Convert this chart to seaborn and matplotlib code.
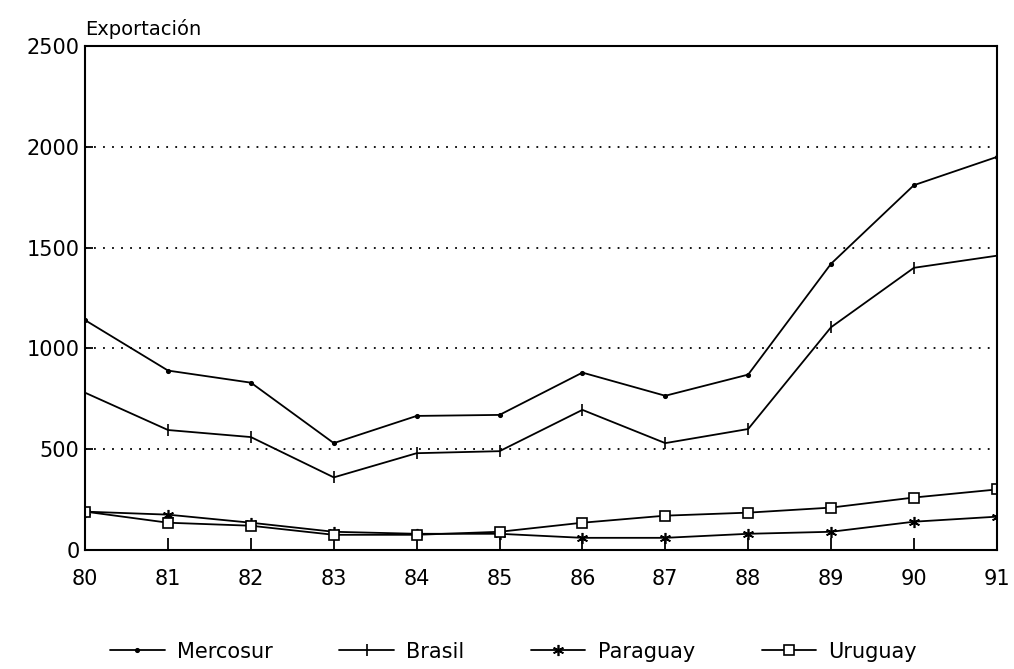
import matplotlib
matplotlib.use("Agg")
import matplotlib.pyplot as plt
import seaborn as sns
import pandas as pd

# Años (eje x) y exportaciones por país
anios = [80, 81, 82, 83, 84, 85, 86, 87, 88, 89, 90, 91]
mercosur = [1140, 890, 830, 530, 665, 670, 880, 765, 870, 1420, 1810, 1950]
brasil = [780, 595, 560, 360, 480, 490, 695, 530, 600, 1105, 1400, 1460]
paraguay = [190, 175, 135, 90, 80, 80, 60, 60, 80, 90, 140, 165]
uruguay = [190, 135, 120, 75, 75, 90, 135, 170, 185, 210, 260, 300]

series = {"Mercosur": mercosur, "Brasil": brasil, "Paraguay": paraguay, "Uruguay": uruguay}
marcadores = {"Mercosur": ".", "Brasil": "|", "Paraguay": (6, 2, 0), "Uruguay": "s"}
tamanios = {"Mercosur": 5, "Brasil": 9, "Paraguay": 8, "Uruguay": 7}
y_ticks = [0, 500, 1000, 1500, 2000, 2500]


def main() -> None:
    sns.set_style("white")
    plt.rcParams['font.family'] = ['DejaVu Sans']
    plt.rcParams['text.color'] = 'black'
    plt.rcParams['xtick.color'] = 'black'
    plt.rcParams['ytick.color'] = 'black'

    fig = plt.figure(figsize=(10.14, 6.69), dpi=100)
    ax = fig.add_axes([0.084, 0.178, 0.899, 0.753])

    for pais, valores in series.items():
        df = pd.DataFrame({"anio": anios, "valor": valores})
        sns.lineplot(data=df, x="anio", y="valor", ax=ax, color="black", linewidth=1.3,
                     marker=marcadores[pais], markersize=tamanios[pais],
                     markerfacecolor="white" if pais == "Uruguay" else "black",
                     markeredgecolor="black", markeredgewidth=1.2, label=pais)

    # Líneas de referencia punteadas
    for y in y_ticks[1:-1]:
        ax.axhline(y, color="black", linestyle=(0, (1, 4)), linewidth=1.3, zorder=0)

    ax.set_xlim(80, 91)
    ax.set_ylim(0, 2500)
    ax.set_xticks(anios)
    ax.set_yticks(y_ticks)
    ax.tick_params(axis="x", direction="in", length=9, width=1.3, labelsize=15,
                   bottom=True, pad=14)
    ax.tick_params(axis="y", direction="in", length=6, width=1.3, labelsize=15,
                   left=True, pad=4)
    for s in ax.spines.values():
        s.set_color("black")
        s.set_linewidth(1.5)
    ax.set_xlabel("")
    ax.set_ylabel("")
    ax.text(0.0, 1.015, "Exportación", transform=ax.transAxes, fontsize=14, ha="left", va="bottom")

    leg = ax.legend(loc="upper center", bbox_to_anchor=(0.47, -0.145), ncol=4, frameon=False,
                    fontsize=15, handlelength=2.6, columnspacing=3.2, handletextpad=0.6)
    for t in leg.get_texts():
        t.set_color("black")

    fig.savefig("out.png", dpi=100)


if __name__ == "__main__":
    main()
